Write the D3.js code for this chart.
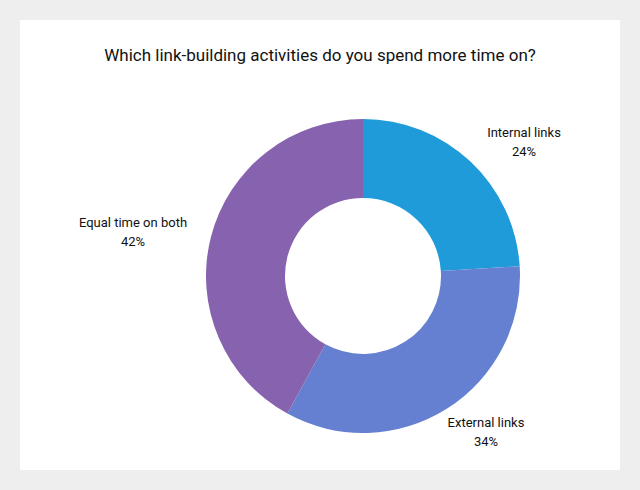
<!DOCTYPE html>
<html><head><meta charset="utf-8">
<script src="https://cdn.jsdelivr.net/npm/d3@7"></script>
<style>body{margin:0;background:#eeeeee;}text{font-family:Roboto,"Open Sans",sans-serif;fill:#111;}</style>
</head><body>
<svg id="c" width="640" height="490"></svg>
<script>
const categories = ["Internal links","External links","Equal time on both"];
const values = [24,34,42];
const colors = ["#1e9bd8","#6580d0","#8762ae"];
const labelPos = [[524,132],[486,422],[133,222]];

const svg = d3.select("#c");
svg.append("rect").attr("x",20).attr("y",20).attr("width",600).attr("height",450).attr("fill","#fff");
svg.append("text").attr("x",320).attr("y",61).attr("text-anchor","middle").style("font-size","17px").text("Which link-building activities do you spend more time on?");
const pie = d3.pie().sort(null).value(d=>d)(values);
const arc = d3.arc().innerRadius(78).outerRadius(157);
const g = svg.append("g").attr("transform","translate(363,276)");
g.selectAll("path").data(pie).join("path").attr("d",arc).attr("fill",(d,i)=>colors[i]);
categories.forEach((c,i)=>{
  const t = svg.append("text").attr("text-anchor","middle").style("font-size","13px");
  t.append("tspan").attr("x",labelPos[i][0]).attr("y",labelPos[i][1]+5).text(c);
  t.append("tspan").attr("x",labelPos[i][0]).attr("y",labelPos[i][1]+24).text(values[i]+"%");
});
</script></body></html>
